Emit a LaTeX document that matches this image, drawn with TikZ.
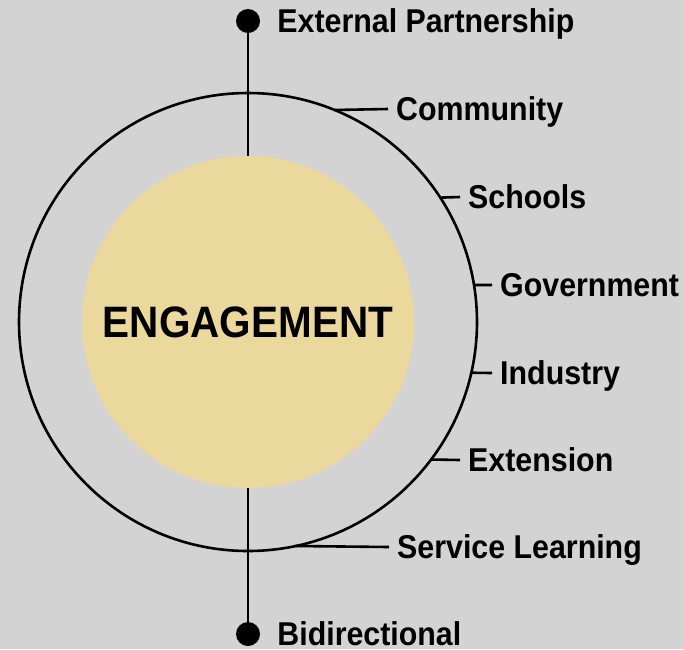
\documentclass[tikz,border=0pt]{standalone}
\usepackage{fontspec}
\setmainfont{Liberation Sans}[FakeStretch=0.92]
\usetikzlibrary{calc,positioning}
\definecolor{bggray}{RGB}{211,211,211}
\definecolor{sand}{RGB}{234,216,157}
\tikzset{
	ring/.style={draw=black, line width=2.6pt},
	leader/.style={draw=black, line width=2.6pt},
	stem/.style={draw=black, line width=2.8pt},
	pin/.style={circle, fill=black, inner sep=0pt, minimum size=24pt},
	hub/.style={circle, fill=sand, inner sep=0pt, minimum size=332pt, text height=31.5pt, text depth=0pt, font=\fontsize{44}{44}\selectfont\bfseries},
	lbl/.style={anchor=west, inner xsep=8pt, inner ysep=0pt, text height=23.6pt, text depth=0pt, font=\fontsize{33}{33}\selectfont\bfseries}
}

\begin{document}
\begin{tikzpicture}[x=1pt, y=-1pt]
			%%%%% START %%%%%
			\useasboundingbox (0,0) rectangle (684,649);
			\fill[bggray] (0,0) rectangle (684,649);
			
			\coordinate (ctr) at (248,322);
			\draw[ring] (ctr) circle (229pt);
			\node[hub] (engage) at (ctr) {ENGAGEMENT};
			
			\node[pin] (toppin) at (248,21) {};
			\node[lbl, right=9pt of toppin] (partner) {External Partnership};
			\draw[stem] (toppin) -- (engage.north);
			
			\node[pin] (botpin) at (248,634) {};
			\node[lbl, right=9pt of botpin] (bidir) {Bidirectional};
			\draw[stem] (botpin) -- (engage.south);
			
			\coordinate (p-comm) at ($(ctr)+({229*cos(-67.8)},{229*sin(-67.8)})$);
			\node[lbl] (comm) at (388,109) {Community};
			\draw[leader] (p-comm) -- (comm.west);
			
			\coordinate (p-school) at ($(ctr)+({229*cos(-32.9)},{229*sin(-32.9)})$);
			\node[lbl] (school) at (460,197) {Schools};
			\draw[leader] (p-school) -- (school.west);
			
			\coordinate (p-gov) at ($(ctr)+({229*cos(-9.3)},{229*sin(-9.3)})$);
			\node[lbl] (gov) at (492,285) {Government};
			\draw[leader] (p-gov) -- (gov.west);
			
			\coordinate (p-ind) at ($(ctr)+({229*cos(12.8)},{229*sin(12.8)})$);
			\node[lbl] (ind) at (492,373) {Industry};
			\draw[leader] (p-ind) -- (ind.west);
			
			\coordinate (p-ext) at ($(ctr)+({229*cos(36.9)},{229*sin(36.9)})$);
			\node[lbl] (ext) at (460,460) {Extension};
			\draw[leader] (p-ext) -- (ext.west);
			
			\coordinate (p-serv) at ($(ctr)+({229*cos(78.0)},{229*sin(78.0)})$);
			\node[lbl] (serv) at (389,547) {Service Learning};
			\draw[leader] (p-serv) -- (serv.west);
			%%%%% END %%%%%
\end{tikzpicture}
\end{document}
